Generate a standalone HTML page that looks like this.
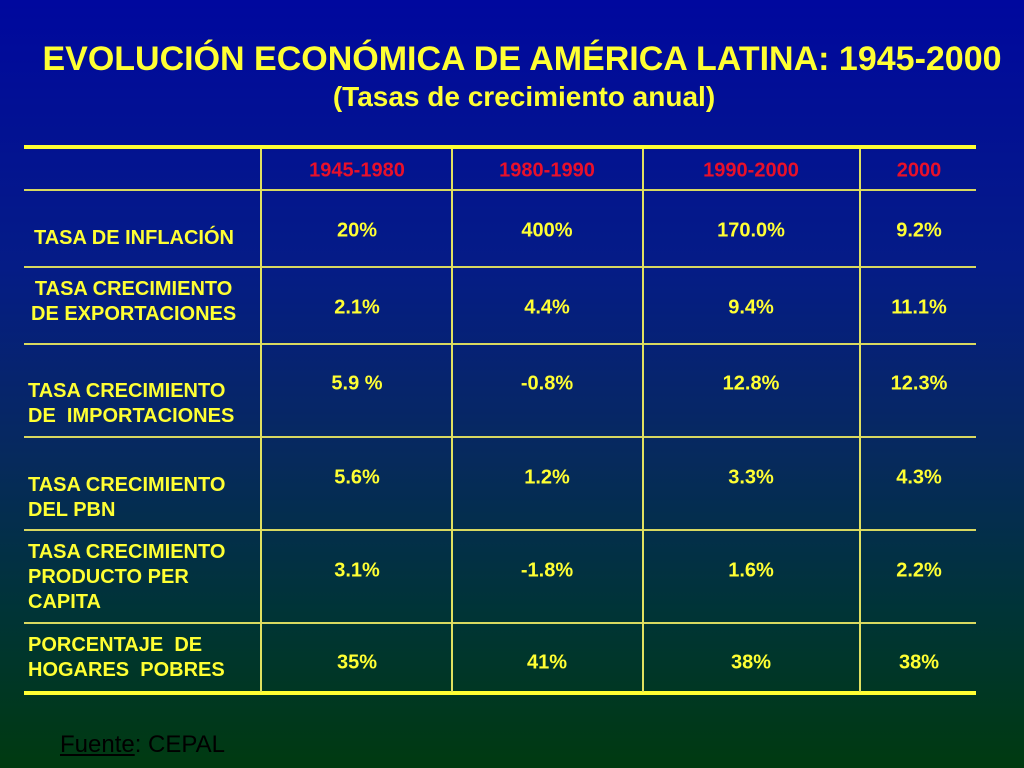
<!DOCTYPE html>
<html><head><meta charset="utf-8"><style>
body{margin:0;width:1024px;height:768px;overflow:hidden;font-family:"Liberation Sans",Arial,sans-serif;font-weight:700;
background:linear-gradient(#00089e 0%,#051c86 35%,#062a5c 60%,#003436 80%,#003a10 100%);position:relative}
div{font-weight:700}
.a{position:absolute;white-space:nowrap}
.t{color:#ffff33;text-align:center;left:0;width:1044px}
.h{position:absolute;background:#ffff33}
.v{position:absolute;background:#e0e060;width:2px}
.l{position:absolute;background:#d8d860;height:2px;left:24px;width:952px}
.c{color:#ffff33;font-size:20px;position:absolute;text-align:center;transform:translate(-50%,-50%);white-space:nowrap}
.hd{color:#e8102a;font-size:20px;position:absolute;text-align:center;transform:translate(-50%,-50%);white-space:nowrap}
.lb{color:#ffff33;font-size:20px;position:absolute;line-height:25px;white-space:nowrap}
</style></head><body>
<div class="a t" style="top:40px;font-size:34px">EVOLUCIÓN ECONÓMICA DE AMÉRICA LATINA: 1945-2000</div>
<div class="a t" style="top:81px;font-size:28px;width:1048px">(Tasas de crecimiento anual)</div>
<div>
<div class="h" style="left:24px;top:145px;width:952px;height:4px"></div>
<div class="l" style="top:189px"></div>
<div class="l" style="top:266px"></div>
<div class="l" style="top:343px"></div>
<div class="l" style="top:436px"></div>
<div class="l" style="top:529px"></div>
<div class="l" style="top:622px"></div>
<div class="h" style="left:24px;top:691px;width:952px;height:4px"></div>
<div class="v" style="left:260px;top:149px;height:543px"></div>
<div class="v" style="left:451px;top:149px;height:543px"></div>
<div class="v" style="left:642px;top:149px;height:543px"></div>
<div class="v" style="left:859px;top:149px;height:543px"></div>
<div class="hd" style="left:357px;top:171px">1945-1980</div>
<div class="hd" style="left:547px;top:171px">1980-1990</div>
<div class="hd" style="left:751px;top:171px">1990-2000</div>
<div class="hd" style="left:919px;top:171px">2000</div>
<div class="lb" style="left:34px;top:226px">TASA DE INFLACIÓN</div>
<div class="lb" style="left:31px;top:277px;text-align:center">TASA CRECIMIENTO<br>DE EXPORTACIONES</div>
<div class="lb" style="left:28px;top:379px">TASA CRECIMIENTO<br>DE&nbsp; IMPORTACIONES</div>
<div class="lb" style="left:28px;top:473px">TASA CRECIMIENTO<br>DEL PBN</div>
<div class="lb" style="left:28px;top:540px">TASA CRECIMIENTO<br>PRODUCTO PER<br>CAPITA</div>
<div class="lb" style="left:28px;top:633px">PORCENTAJE&nbsp; DE<br>HOGARES&nbsp; POBRES</div>
<div id="vals"></div>
</div>
<div class="a" style="left:60px;top:731px;font-size:24px;font-weight:normal;color:#000"><u style="font-weight:normal">Fuente</u><span style="font-weight:normal">: CEPAL</span></div>
<script>
const colX=[357,547,751,919];
const rowY=[231,308,384,478,571,663];
const values=[["20%","400%","170.0%","9.2%"],["2.1%","4.4%","9.4%","11.1%"],["5.9 %","-0.8%","12.8%","12.3%"],["5.6%","1.2%","3.3%","4.3%"],["3.1%","-1.8%","1.6%","2.2%"],["35%","41%","38%","38%"]];
const host=document.getElementById('vals');
values.forEach((r,i)=>r.forEach((v,j)=>{
const d=document.createElement('div');
d.className='c';
d.style.left=colX[j]+'px';d.style.top=rowY[i]+'px';
d.textContent=v;


host.appendChild(d);
}));
</script>
</body></html>
